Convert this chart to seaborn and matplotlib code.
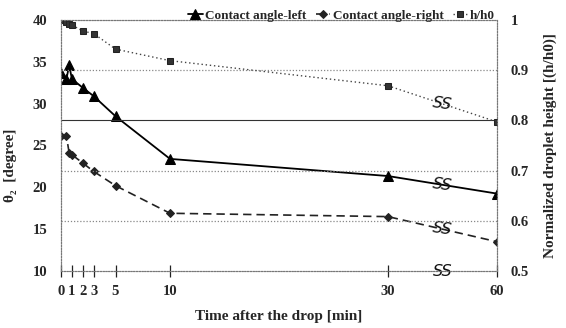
import numpy as np
import matplotlib
matplotlib.use("Agg")
import matplotlib.pyplot as plt
import seaborn as sns

# ---- data ----
t_left = [0, 0.5, 0.75, 1, 2, 3, 5, 10, 30, 60]
angle_left = [33.65, 32.95, 34.6, 32.95, 31.9, 30.9, 28.5, 23.4, 21.35, 19.25]

t_right = [0, 0.5, 0.75, 1, 2, 3, 5, 10, 30, 60]
angle_right = [26.1, 26.1, 24.1, 23.9, 22.9, 21.9, 20.2, 16.9, 16.5, 13.5]

t_h = [0, 0.5, 0.75, 1, 2, 3, 5, 10, 30, 60]
h_ratio = [1.0, 0.997, 0.993, 0.99, 0.978, 0.973, 0.942, 0.919, 0.869, 0.797]

x_ticks = [0, 1, 2, 3, 5, 10, 30, 60]
left_ticks = [10, 15, 20, 25, 30, 35, 40]
right_ticks = [0.5, 0.6, 0.7, 0.8, 0.9, 1.0]
right_labels = ["0.5", "0.6", "0.7", "0.8", "0.9", "1"]

sns.set_theme(style="white")
plt.rcParams["font.family"] = ["Liberation Serif", "DejaVu Serif"]
plt.rcParams["font.weight"] = "bold"
plt.rcParams["axes.labelweight"] = "bold"

fig = plt.figure(figsize=(5.66, 3.28), dpi=100)
ax = fig.add_axes([61 / 566, 1 - 271 / 328, 436 / 566, 251 / 328])
ax2 = ax.twinx()


def fwd(t):
    t = np.asarray(t, float)
    return np.where(t <= 30, t, 30 + (t - 30) / 3.0)


def inv(u):
    u = np.asarray(u, float)
    return np.where(u <= 30, u, 30 + (u - 30) * 3.0)


ax.set_xscale("function", functions=(fwd, inv))

sns.lineplot(x=t_left, y=angle_left, ax=ax, color="black", lw=1.3,
             marker="^", markersize=7, markeredgecolor="black",
             label="Contact angle-left", legend=False)
sns.lineplot(x=t_right, y=angle_right, ax=ax, color="#222222", lw=1.2,
             dashes=False, linestyle=(0, (5, 3)),
             marker="D", markersize=4, markeredgecolor="#222222",
             label="Contact angle-right", legend=False)
sns.lineplot(x=t_h, y=h_ratio, ax=ax2, color="#444444", lw=1.0,
             linestyle=(0, (1, 2)), marker="s", markersize=4.5,
             markeredgecolor="#222222", markerfacecolor="#333333",
             label="h/h0", legend=False)

ax.set_xlim(0, 60)
ax.set_ylim(10, 40)
ax2.set_ylim(0.5, 1.0)
ax.set_xticks(x_ticks)
ax.set_xticklabels([str(v) for v in x_ticks])
ax.set_yticks(left_ticks)
ax2.set_yticks(right_ticks)
ax2.set_yticklabels(right_labels)

for a in (ax, ax2):
    for s in a.spines.values():
        s.set_linestyle((0, (1, 1.5)))
        s.set_color("#777777")
        s.set_linewidth(0.8)

ax.tick_params(axis="x", direction="inout", length=8, width=0.9,
               color="#222222", labelsize=10.5, pad=6, bottom=True)
ax.tick_params(axis="y", length=0, labelsize=10.5, pad=10)
ax2.tick_params(axis="y", length=0, labelsize=10.5, pad=10)
for lab in ax.get_xticklabels() + ax.get_yticklabels() + ax2.get_yticklabels():
    lab.set_fontweight("bold")

# gridlines tied to the right axis
ax2.grid(axis="y", linestyle=(0, (1, 1.5)), color="#888888", linewidth=0.9)
for val, gl in zip(right_ticks, ax2.get_ygridlines()):
    if abs(val - 0.8) < 1e-9:
        gl.set_linestyle("-")
        gl.set_color("#333333")
        gl.set_linewidth(0.8)
    if val in (0.5, 1.0):
        gl.set_visible(False)
ax.grid(False)

ax.set_xlabel("Time after the drop [min]", fontsize=11, fontweight="bold", labelpad=9)
ax.set_ylabel("θ₂  [degree]", fontsize=11, fontweight="bold")
ax.yaxis.set_label_coords(-0.1, 0.42)
ax2.set_ylabel("Normalized droplet height [(h/h0)]", fontsize=11,
               fontweight="bold", labelpad=10)

# axis-break marks between 30 and 60
tm = 45
for a, ys in ((ax, angle_left), (ax, angle_right), (ax2, h_ratio)):
    ym = (ys[-2] + ys[-1]) / 2
    a.text(tm, ym, "SS", ha="center", va="center", fontsize=11.5,
           fontstyle="italic", fontweight="normal", color="#111111",
           family=["DejaVu Sans"], rotation=-8)
ax.text(tm, 10, "SS", ha="center", va="center", fontsize=11.5,
        fontstyle="italic", fontweight="normal", color="#111111",
        family=["DejaVu Sans"])

h1, l1 = ax.get_legend_handles_labels()
h2, l2 = ax2.get_legend_handles_labels()
fig.legend(h1 + h2, l1 + l2, loc="upper right", ncol=3, frameon=False,
           bbox_to_anchor=(503 / 566, 0.995), handlelength=1.1,
           columnspacing=0.7, handletextpad=0.2, borderaxespad=0.2,
           prop={"weight": "bold", "size": 9.5})

fig.savefig("out.png", dpi=100)
